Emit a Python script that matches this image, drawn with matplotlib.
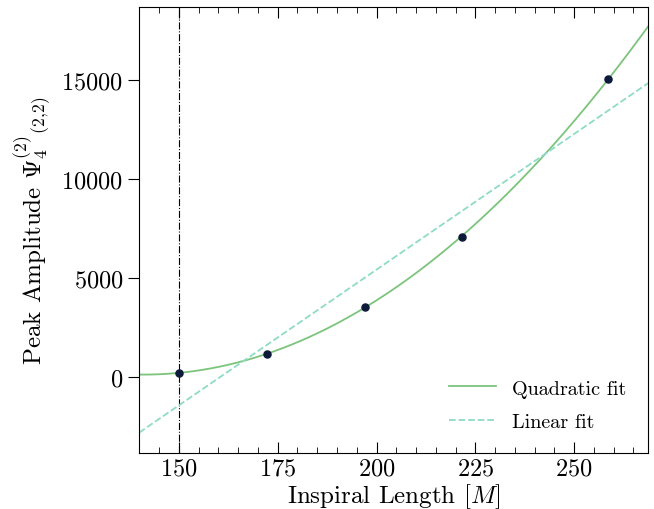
import numpy as np
import matplotlib
matplotlib.use("Agg")
import matplotlib.pyplot as plt
from matplotlib.ticker import MultipleLocator

plt.rcParams["font.family"] = "serif"
plt.rcParams["font.serif"] = ["cmr10"]
plt.rcParams["mathtext.fontset"] = "cm"
plt.rcParams["axes.formatter.use_mathtext"] = True

# inspiral length vs peak amplitude
inspiral_len = [150.0, 172.2, 197.0, 221.5, 258.6]
peak_amp = [200, 1160, 3535, 7070, 15050]
cutoff = 150.0

QUAD_COLOR = "#7cc47c"
LIN_COLOR = "#8edbc6"
PT_COLOR = "#0e1a3a"

x = np.array(inspiral_len)
y = np.array(peak_amp)
xs = np.linspace(140, 268.7, 400)
quad = np.polyval(np.polyfit(x, y, 2), xs)
lin = np.polyval(np.polyfit(x, y, 1), xs)

fig, ax = plt.subplots(figsize=(6.54, 5.10), dpi=100)
ax.axvline(cutoff, color="black", linestyle="-.", linewidth=0.8)
ax.plot(xs, quad, color=QUAD_COLOR, linewidth=1.3, label="Quadratic fit")
ax.plot(xs, lin, color=LIN_COLOR, linewidth=1.3, linestyle="--", label="Linear fit")
ax.scatter(x, y, color=PT_COLOR, s=26, zorder=5)

ax.set_xlim(140, 268.7)
ax.set_ylim(-3840, 18690)
ax.xaxis.set_major_locator(MultipleLocator(25))
ax.xaxis.set_minor_locator(MultipleLocator(5))
ax.yaxis.set_major_locator(MultipleLocator(5000))
ax.tick_params(axis="x", which="major", direction="in", top=True, length=8, labelsize=17.5)
ax.tick_params(axis="x", which="minor", direction="in", top=True, length=4)
ax.tick_params(axis="y", which="major", direction="out", length=8, labelsize=17.5)

ax.set_xlabel(r"Inspiral Length $[M]$", fontsize=18, labelpad=1)
ax.set_ylabel(r"Peak Amplitude $\Psi^{(2)}_{4}{}_{(2{,}2)}$", fontsize=18, labelpad=6)
ax.legend(loc="lower right", frameon=False, fontsize=14.5, handlelength=2.3,
          labelspacing=0.75, borderaxespad=0.7)

fig.subplots_adjust(left=0.213, right=0.991, top=0.984, bottom=0.11)
plt.savefig("out.png", dpi=100)
plt.close()
